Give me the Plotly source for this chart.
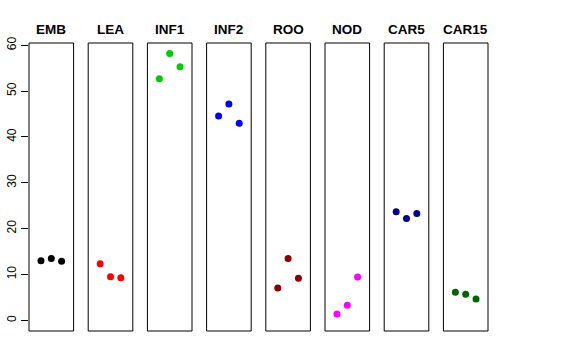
import plotly.graph_objects as go

categories = ["EMB", "LEA", "INF1", "INF2", "ROO", "NOD", "CAR5", "CAR15"]
colors = ["#000000", "#FF0000", "#00CD00", "#0000FF", "#8B0000", "#FF00FF", "#00008B", "#006400"]
replicate = [1, 2, 3]
values = {
    "EMB": [13.0, 13.5, 12.9],
    "LEA": [12.35, 9.5, 9.3],
    "INF1": [52.7, 58.2, 55.3],
    "INF2": [44.6, 47.2, 43.0],
    "ROO": [7.05, 13.5, 9.2],
    "NOD": [1.37, 3.27, 9.45],
    "CAR5": [23.7, 22.2, 23.3],
    "CAR15": [6.1, 5.67, 4.65],
}
y_ticks = [0, 10, 20, 30, 40, 50, 60]

W, H = 576, 360
ml, mr, mt, mb = 29, 88, 43, 29
pw = W - ml - mr
pitch, bw = 59.2, 44.6

fig = go.Figure()
shapes = []
annotations = []
for i, cat in enumerate(categories):
    n = i + 1
    xa = "x" if n == 1 else f"x{n}"
    d0 = (pitch * i) / pw
    d1 = (pitch * i + bw) / pw
    fig.add_trace(go.Scatter(
        x=replicate, y=values[cat], mode="markers",
        marker=dict(color=colors[i], size=7),
        xaxis=xa, yaxis="y", showlegend=False, hoverinfo="skip",
    ))
    key = "xaxis" if n == 1 else f"xaxis{n}"
    fig.layout[key] = dict(domain=[d0, min(d1, 1)], range=[-0.16, 4.16], visible=False,
                           anchor="y", fixedrange=True, automargin=False)
    shapes.append(dict(type="rect", xref=f"{xa} domain", yref="y domain",
                       x0=0, x1=1, y0=0, y1=1, line=dict(color="#000000", width=1)))
    annotations.append(dict(text=f"<b>{cat}</b>", xref=f"{xa} domain", yref="paper",
                            x=0.5, y=1, yshift=14, showarrow=False, yanchor="middle",
                            font=dict(size=13.5, color="#000000")))

fig.update_layout(
    width=W, height=H,
    margin=dict(l=ml, r=mr, t=mt, b=mb, pad=0, autoexpand=False),
    paper_bgcolor="white", plot_bgcolor="white",
    font=dict(family="Liberation Sans, Arial, sans-serif", color="#000000"),
    yaxis=dict(range=[-2.33, 60.5], tickvals=y_ticks, ticks="outside", ticklen=7,
               tickcolor="#000000", tickangle=-90, showgrid=False, zeroline=False,
               showline=False, tickfont=dict(size=12), anchor="x", fixedrange=True,
               automargin=False),
    shapes=shapes, annotations=annotations,
)

fig.write_html("out.html", config={"displayModeBar": False},
               post_script="document.body.style.margin='0';")
